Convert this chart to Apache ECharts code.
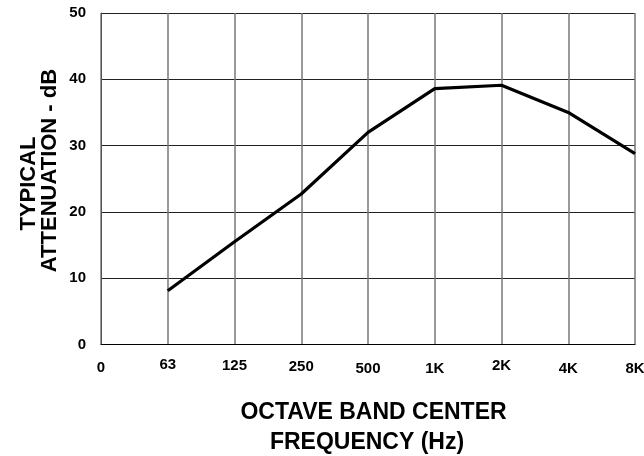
<!DOCTYPE html>
<html>
<head>
<meta charset="utf-8">
<script src="https://cdn.jsdelivr.net/npm/echarts@6/dist/echarts.min.js"></script>
<style>html,body{margin:0;padding:0;background:#fff;}#c{width:644px;height:456px;}</style>
</head>
<body>
<div id="c"></div>
<script>
var categories = ['0', '63', '125', '250', '500', '1K', '2K', '4K', '8K'];
var attenuation = ['-', 8.1, 15.5, 22.7, 32.0, 38.6, 39.1, 35.0, 28.8];
var yTicks = [0, 10, 20, 30, 40, 50];
var xTitleLines = ['OCTAVE BAND CENTER', 'FREQUENCY (Hz)'];
var yTitleLines = ['TYPICAL', 'ATTENUATION - dB'];

// small vertical jitter of the printed tick labels (style only)
var labelShift = [3, 0, 1, 2, 4, 4, 1, 4, 4];

var font = '"Liberation Sans", Arial, sans-serif';
var chart = echarts.init(document.getElementById('c'));

var xData = categories.map(function (c, i) {
  return { value: c, textStyle: { padding: [labelShift[i], 0, 0, 0] } };
});

var titleStyle = function (size) {
  return { fontFamily: font, fontWeight: 'bold', fontSize: size, fill: '#000', textAlign: 'center', textVerticalAlign: 'middle' };
};

chart.setOption({
  animation: false,
  backgroundColor: '#fff',
  grid: { left: 101, right: 9, top: 13, bottom: 111.5, containLabel: false, outerBoundsMode: 'none' },
  xAxis: {
    type: 'category',
    data: xData,
    boundaryGap: false,
    axisLine: { show: true, lineStyle: { color: '#000', width: 1 } },
    axisTick: { show: false },
    axisLabel: { fontFamily: font, fontWeight: 'bold', fontSize: 15, color: '#000', margin: 12.5, interval: 0 },
    splitLine: { show: true, lineStyle: { color: '#777', width: 1.5 } }
  },
  yAxis: {
    type: 'value',
    min: 0, max: 50, interval: 10,
    axisLine: { show: true, lineStyle: { color: '#555', width: 1 } },
    axisTick: { show: false },
    axisLabel: { fontFamily: font, fontWeight: 'bold', fontSize: 15, color: '#000', margin: 15,
      formatter: function (v) { return yTicks.indexOf(v) >= 0 ? String(v) : ''; } },
    splitLine: { show: true, lineStyle: { color: '#222', width: 1 } }
  },
  graphic: [
    { type: 'text', x: 373.5, y: 412.5, style: Object.assign({ text: xTitleLines[0] }, titleStyle(23)) },
    { type: 'text', x: 367, y: 442.5, style: Object.assign({ text: xTitleLines[1] }, titleStyle(23)) },
    { type: 'text', x: 28.5, y: 183.5, rotation: Math.PI / 2, style: Object.assign({ text: yTitleLines[0] }, titleStyle(22)) },
    { type: 'text', x: 50, y: 170.5, rotation: Math.PI / 2, style: Object.assign({ text: yTitleLines[1] }, titleStyle(22)) }
  ],
  series: [{
    type: 'line',
    data: attenuation,
    symbol: 'none',
    lineStyle: { color: '#000', width: 3.2 },
    z: 5
  }]
});
</script>
</body>
</html>
